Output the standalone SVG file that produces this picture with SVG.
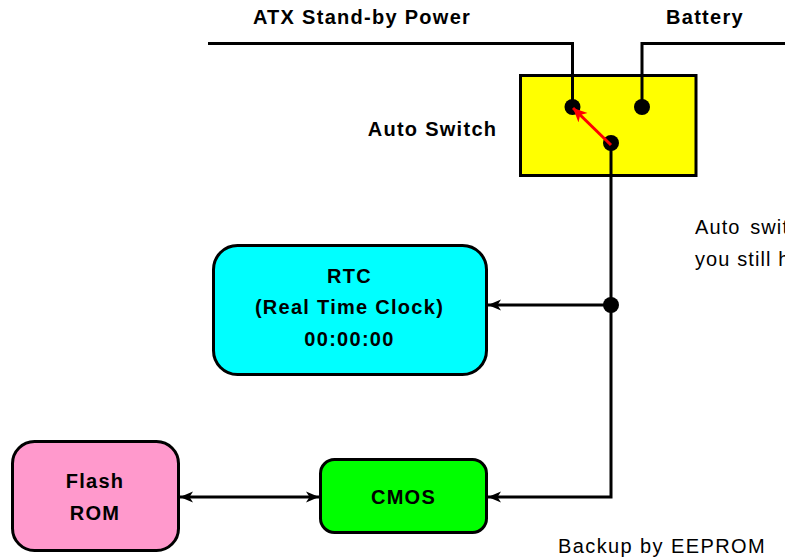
<svg xmlns="http://www.w3.org/2000/svg" width="785" height="560" viewBox="0 0 785 560">
<style>
text{font-family:"Liberation Sans",Arial,sans-serif;fill:#000}
.b{font-size:20px;font-weight:bold;letter-spacing:1.28px;text-anchor:middle}
.r{font-size:20px;letter-spacing:1.1px}
.n{stroke:#000;stroke-width:3}
.w{fill:none;stroke:#000;stroke-width:3}
</style>
<defs>
<marker id="a" markerUnits="userSpaceOnUse" markerWidth="14" markerHeight="12" refX="13" refY="6" orient="auto-start-reverse"><path d="M0 0.500L13 6L0 11.500L3.500 6Z" fill="#000"/></marker>
<marker id="ar" markerUnits="userSpaceOnUse" markerWidth="15" markerHeight="14" refX="14" refY="7" orient="auto"><path d="M0 0.500L14 7L0 13.500L4 7Z" fill="#f00"/></marker>
</defs>
<rect width="785" height="560" fill="#fff"/>
<g id="auto-switch"><rect class="n" x="520.500" y="75.500" width="175.500" height="100" fill="#ff0"/><text class="b" x="432.500" y="136">Auto Switch</text></g>
<g id="rtc"><rect class="n" x="213.500" y="245.500" width="273" height="129" rx="24" fill="#0ff"/><text class="b" x="349.500" y="283">RTC</text><text class="b" x="349.500" y="314">(Real Time Clock)</text><text class="b" x="349.500" y="346">00:00:00</text></g>
<g id="flash-rom"><rect class="n" x="12.500" y="441.500" width="166" height="109" rx="22" fill="#ff99cc"/><text class="b" x="95" y="488">Flash</text><text class="b" x="95" y="520">ROM</text></g>
<g id="cmos"><rect class="n" x="320.500" y="459.500" width="166" height="73" rx="14" fill="#0f0"/><text class="b" x="403.500" y="504">CMOS</text></g>
<g id="connectors">
<path class="w" d="M208 43.500H572.500V107"/>
<path class="w" d="M785 43.500H642V107"/>
<path class="w" d="M611 143V497H488" marker-end="url(#a)"/>
<path class="w" d="M611 305H488" marker-end="url(#a)"/>
<path class="w" d="M180 497H319" marker-start="url(#a)" marker-end="url(#a)"/>
<circle cx="572.500" cy="107" r="8"/><circle cx="642" cy="107" r="8"/><circle cx="611" cy="143" r="8"/><circle cx="611" cy="305" r="8"/>
<path d="M611 145L573 108" fill="none" stroke="#f00" stroke-width="3" marker-end="url(#ar)"/>
</g>
<g id="labels">
<text class="b" x="362" y="24">ATX Stand-by Power</text>
<text class="b" x="705" y="24">Battery</text>
<text class="r" x="695" y="234" word-spacing="3">Auto swit</text>
<text class="r" x="695" y="266">you still h</text>
<text class="r" x="558" y="553" style="letter-spacing:1.4px">Backup by EEPROM</text>
</g>
</svg>
